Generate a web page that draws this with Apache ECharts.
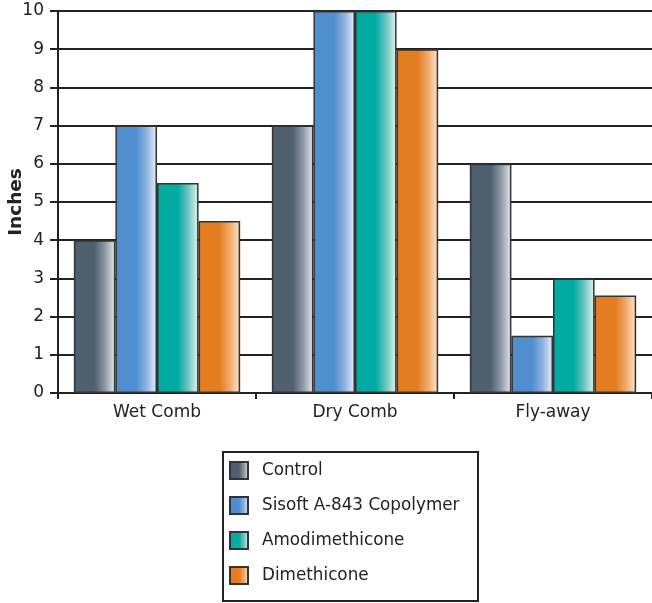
<!DOCTYPE html>
<html>
<head>
<meta charset="utf-8">
<script src="https://cdn.jsdelivr.net/npm/echarts@6/dist/echarts.min.js"></script>
<style>
  html, body { margin: 0; padding: 0; background: #fff; }
  #chart { width: 652px; height: 603px; }
</style>
</head>
<body>
<div id="chart"></div>
<script>
// Hair-combing test results, in inches
const categories = ['Wet Comb', 'Dry Comb', 'Fly-away'];
const seriesNames = ['Control', 'Sisoft A-843 Copolymer', 'Amodimethicone', 'Dimethicone'];
const controlValues = [4, 7, 6];
const sisoftValues = [7, 10, 1.5];
const amodimethiconeValues = [5.5, 10, 3];
const dimethiconeValues = [4.5, 9, 2.55];
const yTicks = [0, 1, 2, 3, 4, 5, 6, 7, 8, 9, 10];

// Solid base colour on the left half, fading to a pale tint on the right
function shade(base, mid, light) {
  return new echarts.graphic.LinearGradient(0, 0, 1, 0, [
    { offset: 0, color: base },
    { offset: 0.5, color: base },
    { offset: 0.75, color: mid },
    { offset: 1, color: light }
  ]);
}
const fills = [
  shade('#4e5f6e', '#8e9aa5', '#e6e9ec'),
  shade('#4f8fcf', '#8fb2e0', '#eaf0fb'),
  shade('#00aba2', '#6cc6bf', '#e6f4f2'),
  shade('#e47d20', '#f0a96a', '#fde6d2')
];
const valueSets = [controlValues, sisoftValues, amodimethiconeValues, dimethiconeValues];

const chart = echarts.init(document.getElementById('chart'), null, { renderer: 'canvas' });
const ink = '#222';
const font = '"DejaVu Sans", "Liberation Sans", Arial, sans-serif';

chart.setOption({
  animation: false,
  backgroundColor: '#fff',
  textStyle: { fontFamily: font },
  grid: { left: 58, right: 0, top: 11, bottom: 210, containLabel: false, outerBoundsMode: 'none' },
  graphic: [{
    type: 'rect',
    shape: { x: 223, y: 452, width: 255, height: 149 },
    style: { fill: '#fff', stroke: ink, lineWidth: 2 },
    z: 0
  }],
  legend: {
    orient: 'vertical',
    left: 229,
    top: 461,
    icon: 'rect',
    itemWidth: 18,
    itemHeight: 17,
    itemGap: 16,
    padding: 0,
    textStyle: { fontFamily: font, fontSize: 16.8, color: ink, padding: [0, 0, 0, 9] },
    data: seriesNames,
    z: 5
  },
  xAxis: {
    type: 'category',
    data: categories,
    axisLine: { lineStyle: { color: ink, width: 2 } },
    axisTick: { show: true, length: 6, lineStyle: { color: ink, width: 2 } },
    axisLabel: { fontSize: 17, color: ink, margin: 11, fontFamily: font },
    splitLine: { show: false }
  },
  yAxis: {
    type: 'value',
    min: yTicks[0],
    max: yTicks[yTicks.length - 1],
    interval: 1,
    name: 'Inches',
    nameLocation: 'middle',
    nameGap: 32,
    nameRotate: 90,
    nameMoveOverlap: false,
    nameTextStyle: { fontSize: 18.5, fontWeight: 'bold', color: ink, fontFamily: font },
    axisLine: { show: true, lineStyle: { color: ink, width: 2 } },
    axisTick: { show: true, length: 8, lineStyle: { color: ink, width: 2 } },
    axisLabel: { fontSize: 17, color: ink, margin: 14, fontFamily: font },
    splitLine: { show: true, lineStyle: { color: ink, width: 2 } }
  },
  series: seriesNames.map((name, i) => ({
    name: name,
    type: 'bar',
    data: valueSets[i],
    barGap: '0%',
    barCategoryGap: '16%',
    itemStyle: { color: fills[i], borderColor: '#333', borderWidth: 1.5 }
  }))
});
</script>
</body>
</html>
